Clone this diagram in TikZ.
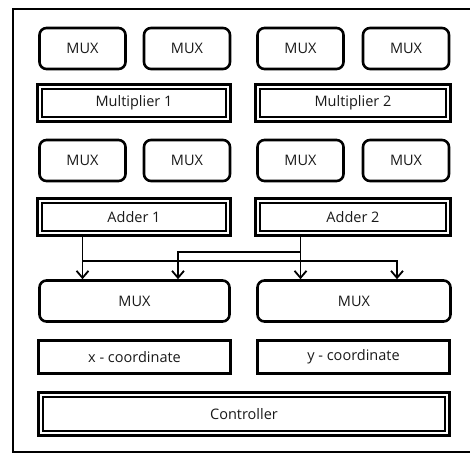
\documentclass[tikz,border=0pt]{standalone}
\usepackage{fontspec}
\setmainfont{Open Sans}
\usetikzlibrary{arrows.meta}

\begin{document}
\begin{tikzpicture}[x=1pt,y=-1pt,every node/.style={font=\fontsize{14.5}{17}\selectfont, text=black!90},
  muxbox/.style={draw, line width=2.6pt, rounded corners=7pt, minimum width=86pt, minimum height=41pt, inner sep=0pt},
  dblbox/.style={draw, line width=3.4pt, minimum height=36.5pt, inner sep=0pt,
    path picture={\draw[line width=1.9pt] ([shift={(3.9pt,-3.9pt)}]path picture bounding box.north west)
      rectangle ([shift={(-3.9pt,3.9pt)}]path picture bounding box.south east);}},
  wideMux/.style={draw, line width=2.6pt, rounded corners=7pt, minimum width=190pt, minimum height=41pt, inner sep=0pt},
  coordbox/.style={draw, line width=2.6pt, minimum width=192pt, minimum height=33pt, inner sep=0pt},
  arr/.style={line width=1.8pt, -{Straight Barb[length=7pt,width=12pt]}}]
\useasboundingbox (0,0) rectangle (470,453);

% outer frame, open to the right
\draw[line width=2pt] (471,9) -| (13,452) -- (471,452);

% multiplier stage
\node[muxbox] (mux11) at (82.5,48.5) {MUX};
\node[muxbox] (mux12) at (187,48.5) {MUX};
\node[muxbox] (mux13) at (300.5,48.5) {MUX};
\node[muxbox] (mux14) at (406,48.5) {MUX};
\node[dblbox, minimum width=192.5pt] (mult1) at (134,103) {Multiplier 1};
\node[dblbox, minimum width=194.5pt] (mult2) at (353,103) {Multiplier 2};

% adder stage
\node[muxbox] (mux21) at (82.5,160.5) {MUX};
\node[muxbox] (mux22) at (187,160.5) {MUX};
\node[muxbox] (mux23) at (300.5,160.5) {MUX};
\node[muxbox] (mux24) at (406,160.5) {MUX};
\node[dblbox, minimum width=192.5pt] (add1) at (134,217) {Adder 1};
\node[dblbox, minimum width=194.5pt] (add2) at (353,217) {Adder 2};

% output muxes and registers
\node[wideMux] (omux1) at (134.5,301) {MUX};
\node[wideMux, minimum width=193pt] (omux2) at (354,301) {MUX};
\node[coordbox] (xcoord) at (134.5,357) {x - coordinate};
\node[coordbox] (ycoord) at (353.5,357) {y - coordinate};
\node[dblbox, minimum width=410.5pt, minimum height=42.5pt] (ctrl) at (244,414) {Controller};

% adder outputs to the output muxes
\draw[arr] (add1.south -| mux11) -- (omux1.north -| mux11);
\draw[arr] (add1.south -| mux11) ++(0,24) -| ([xshift=43pt]omux2.north);
\draw[arr] (add2.south -| mux23) -- (omux2.north -| mux23);
\draw[arr] (add2.south -| mux23) ++(0,15) -| ([xshift=43.5pt]omux1.north);
\end{tikzpicture}
\end{document}
